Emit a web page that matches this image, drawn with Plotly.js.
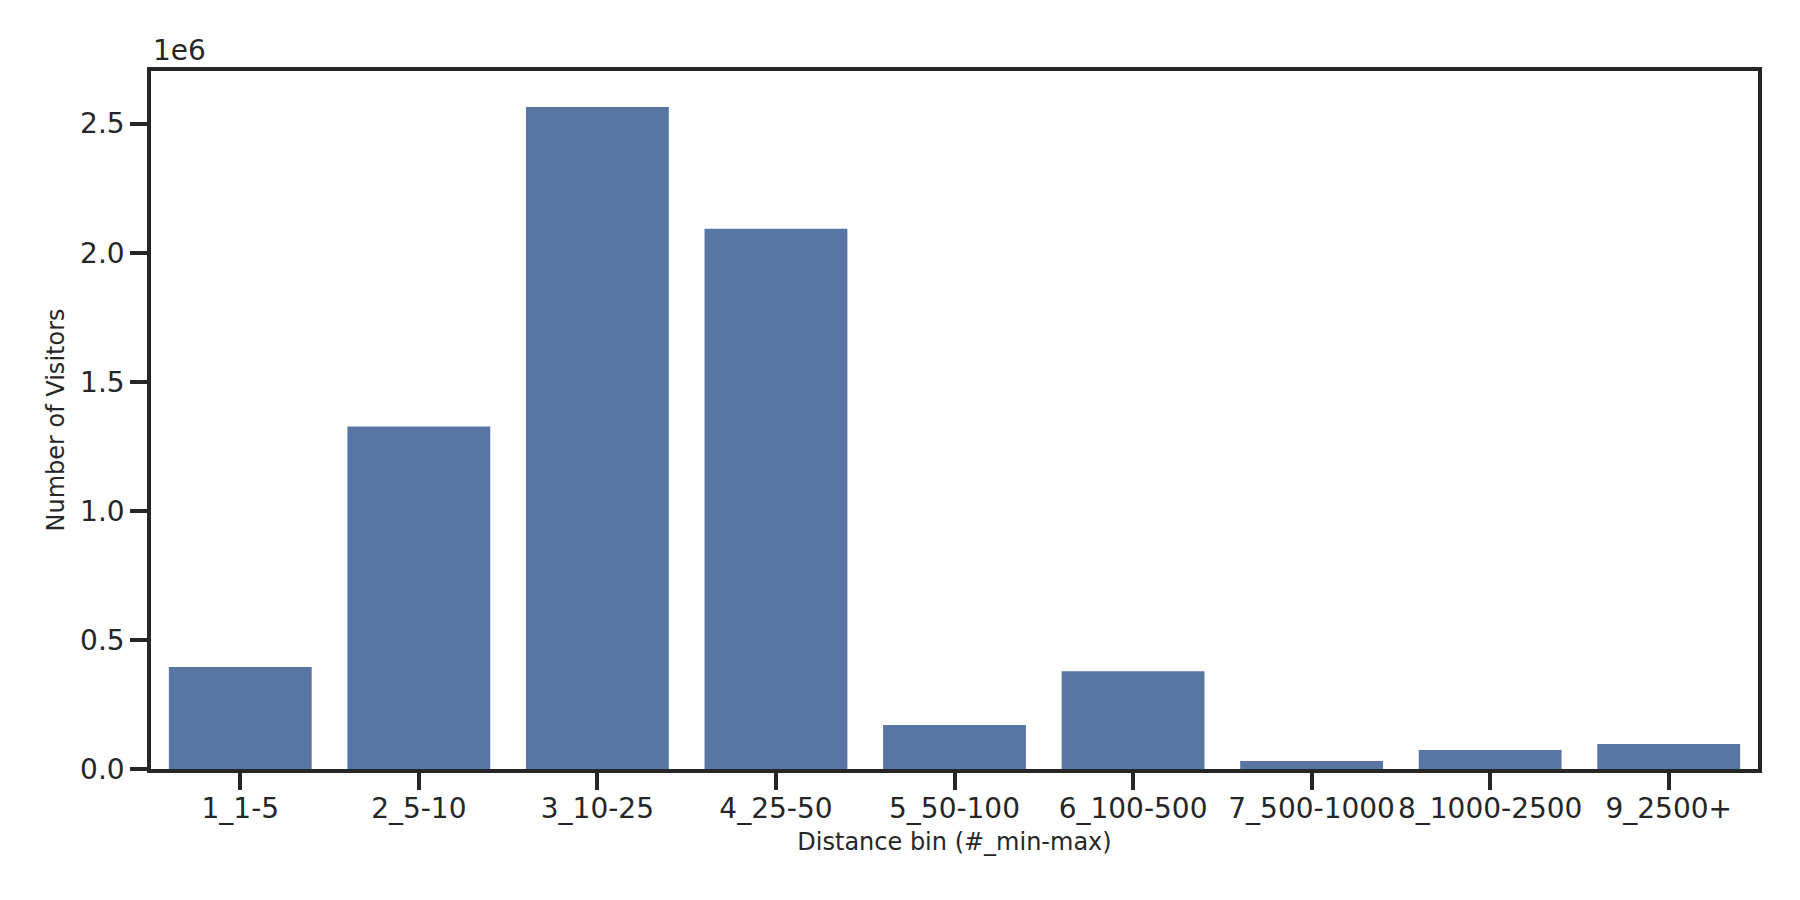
<!DOCTYPE html>
<html>
<head>
<meta charset="utf-8">
<script src="https://cdn.plot.ly/plotly-3.0.1.min.js"></script>
<style>html,body{margin:0;padding:0;background:#fff;}#chart{width:1800px;height:900px;}</style>
</head>
<body>
<div id="chart"></div>
<script>
const categories = ["1_1-5","2_5-10","3_10-25","4_25-50","5_50-100","6_100-500","7_500-1000","8_1000-2500","9_2500+"];
const visitors = [395000, 1327000, 2565000, 2093000, 170000, 379000, 31000, 73500, 97000];
const yTickVals = [0, 500000, 1000000, 1500000, 2000000, 2500000];
const yTickText = ["0.0","0.5","1.0","1.5","2.0","2.5"];

const ink = "#262626";
const font = "DejaVu Sans, sans-serif";

Plotly.newPlot("chart", [{
  type: "bar",
  x: categories,
  y: visitors,
  marker: {color: "#5975a4", line: {width: 0}},
  width: 0.8,
  hoverinfo: "x+y"
}], {
  width: 1800, height: 900,
  margin: {l: 151, r: 42, t: 71, b: 131},
  paper_bgcolor: "#fff", plot_bgcolor: "#fff",
  showlegend: false,
  font: {family: font, color: ink},
  xaxis: {
    type: "category",
    range: [-0.5, 8.5],
    showline: true, mirror: true, linecolor: ink, linewidth: 3.5,
    ticks: "outside", ticklen: 17, tickwidth: 3.5, tickcolor: ink,
    ticklabelstandoff: -5,
    showgrid: false, zeroline: false,
    tickfont: {family: font, size: 28, color: ink},
    title: {text: "Distance bin (#_min-max)", font: {family: font, size: 24, color: ink}, standoff: 10}
  },
  yaxis: {
    range: [0, 2704000],
    tickvals: yTickVals, ticktext: yTickText,
    showline: true, mirror: true, linecolor: ink, linewidth: 3.5,
    ticks: "outside", ticklen: 17, tickwidth: 3.5, tickcolor: ink,
    showgrid: false, zeroline: false,
    tickfont: {family: font, size: 28, color: ink},
    title: {text: "Number of Visitors", font: {family: font, size: 24, color: ink}, standoff: 10}
  },
  annotations: [{
    text: "1e6", xref: "paper", yref: "paper", x: 0, y: 1,
    xanchor: "left", yanchor: "bottom", yshift: 2, showarrow: false,
    font: {family: font, size: 28, color: ink}
  }]
}, {displayModeBar: false});
</script>
</body>
</html>
